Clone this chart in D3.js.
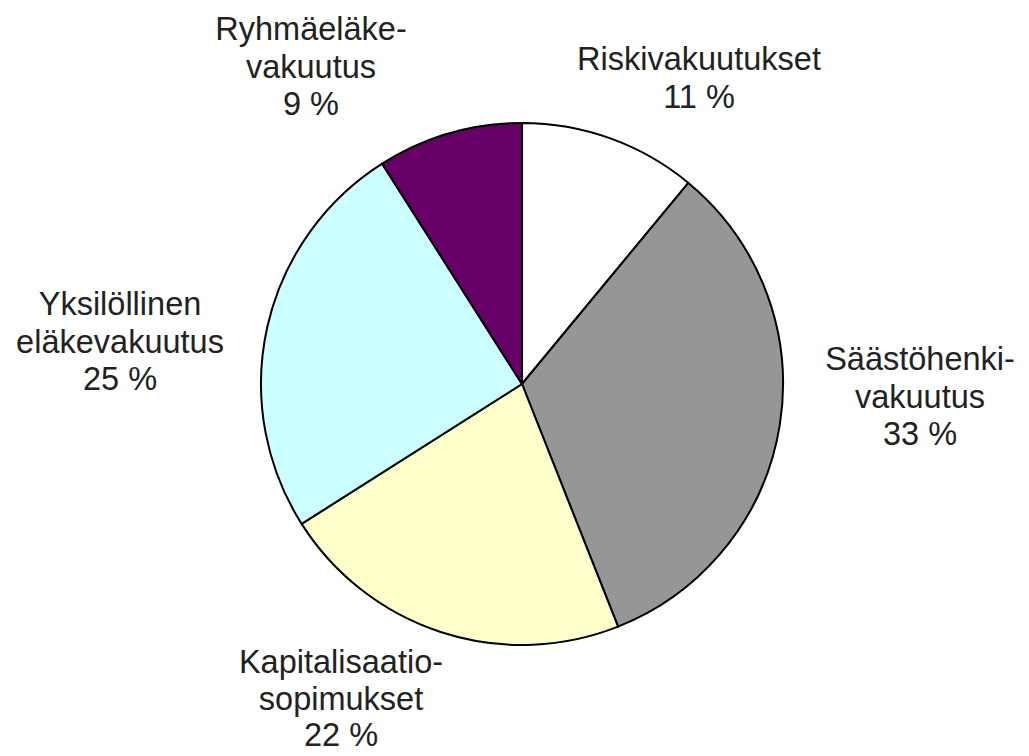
<!DOCTYPE html>
<html lang="fi">
<head>
<meta charset="UTF-8">
<title>Pie</title>
<script src="https://cdn.jsdelivr.net/npm/d3@7"></script>
<style>
    body{ margin:0; background:#fff; }
    .label text{
        font-family: 'Liberation Sans', Arial, sans-serif;
        font-size: 32.5px;
        fill: #222;
    }
</style>
</head>
<body>
<div id="container"></div>
<script>
    // data, clockwise from 12 o'clock
    var categories = ["Riskivakuutukset", "Säästöhenkivakuutus", "Kapitalisaatiosopimukset",
                      "Yksilöllinen eläkevakuutus", "Ryhmäeläkevakuutus"]
    var values = [11, 33, 22, 25, 9]
    // label text as broken in the picture
    var labelLines = [
        ["Riskivakuutukset"],
        ["Säästöhenki-", "vakuutus"],
        ["Kapitalisaatio-", "sopimukset"],
        ["Yksilöllinen", "eläkevakuutus"],
        ["Ryhmäeläke-", "vakuutus"]
    ]
    var colors = ["#ffffff", "#969696", "#ffffcc", "#ccffff", "#660066"]

    let width = 1029
    let height = 756
    let cx = 522, cy = 384, radius = 261
    let lineH = 37.5

    // where the label block sits (centre x, first baseline)
    let labelPos = [[699, 70], [920, 370], [341, 673], [120, 315], [311, 40]]

    let svg = d3.select("#container")
        .append("svg")
        .attr("width", width)
        .attr("height", height)

    let pie = d3.pie().sort(null).value(d => d)
    let arc = d3.arc().innerRadius(0).outerRadius(radius)

    let g = svg.append("g").attr("transform", "translate(" + cx + "," + cy + ")")

    g.selectAll("path")
        .data(pie(values))
        .enter()
        .append("path")
        .attr("d", arc)
        .attr("fill", (d, i) => colors[i])
        .attr("stroke", "#000")
        .attr("stroke-width", 2)
        .attr("stroke-linejoin", "round")

    let total = d3.sum(values)
    let labels = svg.selectAll("g.label")
        .data(categories)
        .enter()
        .append("g")
        .attr("class", "label")
        .attr("aria-label", d => d)

    labels.each(function(d, i) {
        let lines = labelLines[i].concat([Math.round(values[i] / total * 100) + " %"])
        d3.select(this).selectAll("text")
            .data(lines)
            .enter()
            .append("text")
            .attr("x", labelPos[i][0])
            .attr("y", (t, j) => labelPos[i][1] + j * (i == 2 ? 36.5 : lineH))
            .attr("text-anchor", "middle")
            .text(t => t)
    })
</script>
</body>
</html>
